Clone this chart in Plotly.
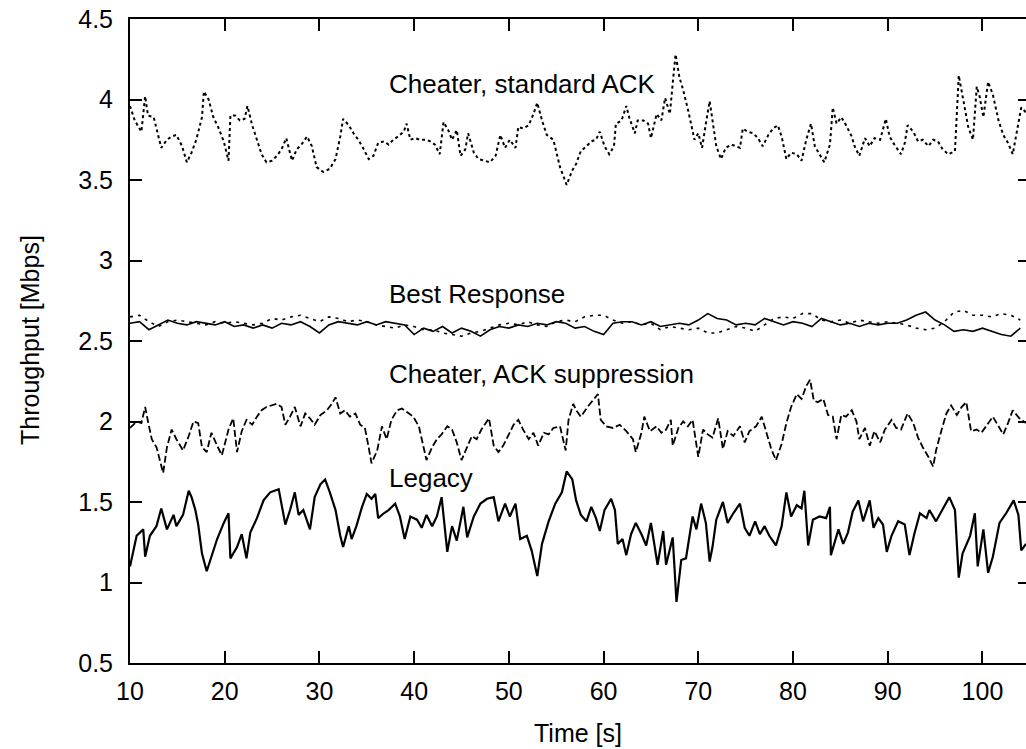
import plotly.graph_objects as go

# ---------------- data ----------------
legacy_t = [10.0,10.7,11.4,11.6,12.1,12.8,13.3,13.9,14.6,14.9,15.6,16.2,16.5,16.9,17.2,17.6,18.1,18.6,19.2,19.9,
            20.4,20.6,21.3,21.8,22.3,22.7,23.4,24.1,24.8,25.7,26.4,26.9,27.4,27.8,28.3,29.0,29.5,30.1,30.6,31.1,
            31.7,32.2,32.5,33.1,33.4,33.9,34.5,35.0,35.5,35.9,36.2,36.8,37.3,38.0,38.5,39.0,39.6,40.3,40.8,41.3,
            41.9,42.4,42.9,43.5,44.0,44.5,45.2,45.6,46.3,47.0,47.7,48.4,48.9,49.6,50.1,50.7,51.2,51.9,52.4,53.0,
            53.5,54.2,54.9,55.6,56.1,56.7,
            57.1,57.6,58.2,58.7,59.2,59.6,60.1,60.8,61.2,61.5,62.0,62.4,62.9,63.4,64.0,64.5,65.0,65.7,66.3,66.6,
            67.3,67.7,68.2,68.7,69.4,69.8,70.3,70.8,71.2,71.5,71.9,72.6,73.1,73.7,74.4,74.9,75.4,76.0,76.5,77.0,
            77.5,78.2,78.8,79.3,79.8,80.4,80.9,81.2,81.6,82.1,82.8,83.5,83.9,84.0,84.8,85.3,85.8,86.3,86.9,87.4,
            88.1,88.5,89.0,89.5,89.9,90.4,91.1,91.8,92.3,92.8,93.4,94.1,94.4,95.1,95.8,96.5,97.1,97.5,97.9,98.7,
            99.2,99.5,100.1,100.6,101.1,101.8,102.5,103.3,103.8,104.1,104.6]
legacy_v = [1.10,1.29,1.33,1.16,1.29,1.35,1.46,1.33,1.42,1.35,1.42,1.57,1.53,1.45,1.36,1.18,1.07,1.16,1.27,1.37,
            1.43,1.15,1.22,1.30,1.15,1.31,1.40,1.51,1.56,1.58,1.36,1.45,1.56,1.42,1.45,1.33,1.53,1.61,1.64,1.56,
            1.45,1.29,1.22,1.35,1.27,1.35,1.47,1.55,1.52,1.55,1.40,1.43,1.45,1.49,1.41,1.27,1.41,1.39,1.34,1.42,
            1.35,1.41,1.53,1.19,1.35,1.26,1.47,1.28,1.41,1.49,1.52,1.53,1.38,1.49,1.41,1.49,1.27,1.29,1.20,1.04,
            1.24,1.38,1.49,1.56,1.69,1.64,
            1.51,1.42,1.38,1.47,1.40,1.32,1.45,1.52,1.45,1.24,1.27,1.17,1.30,1.37,1.30,1.23,1.37,1.11,1.32,1.11,
            1.28,0.88,1.14,1.15,1.41,1.33,1.49,1.37,1.13,1.22,1.39,1.50,1.37,1.43,1.49,1.34,1.29,1.38,1.30,1.35,
            1.29,1.23,1.35,1.56,1.41,1.48,1.46,1.57,1.23,1.39,1.41,1.40,1.47,1.17,1.33,1.24,1.31,1.44,1.51,1.38,
            1.51,1.34,1.40,1.36,1.19,1.29,1.38,1.36,1.17,1.30,1.43,1.40,1.45,1.38,1.46,1.53,1.45,1.03,1.18,1.29,
            1.43,1.10,1.33,1.06,1.16,1.37,1.43,1.51,1.42,1.20,1.24]

supp_t = [10.0,10.7,11.2,11.6,11.9,12.3,12.8,13.5,13.9,14.4,14.9,15.6,16.2,16.7,17.2,17.6,18.1,18.6,19.2,19.7,
          20.4,20.9,21.3,21.8,22.3,22.9,23.4,23.9,24.4,25.0,25.5,26.0,26.4,26.9,27.4,28.0,28.5,29.0,29.5,30.1,
          30.8,31.3,31.7,32.2,32.7,33.2,33.8,34.3,34.8,35.2,35.5,36.1,36.6,37.1,37.6,38.2,38.7,39.2,39.9,40.5,
          40.8,41.3,41.9,42.4,42.9,43.5,44.0,44.5,45.0,45.6,46.1,46.6,47.1,47.9,48.4,48.9,49.4,50.0,50.5,51.0,
          51.5,52.1,52.6,53.1,53.7,54.2,54.7,55.4,56.0,56.3,56.8,
          57.1,57.6,58.3,58.9,59.4,59.7,60.3,61.0,61.7,62.4,63.1,63.4,64.0,64.3,64.9,65.6,66.1,66.6,67.1,67.3,
          67.9,68.4,68.9,69.4,70.0,70.5,71.0,71.5,72.1,72.6,73.1,73.7,74.4,74.9,75.4,76.1,76.7,77.2,77.7,78.2,
          78.8,79.3,79.8,80.4,80.9,81.4,81.8,82.2,82.6,83.2,83.7,84.2,84.6,85.1,85.6,86.2,86.7,87.0,87.6,88.1,
          88.6,89.2,89.7,90.4,90.9,91.4,92.1,92.7,93.2,93.7,94.3,94.8,95.1,95.7,96.2,96.7,97.3,97.8,98.3,98.8,
          99.4,99.9,100.4,101.1,101.7,102.2,102.7,103.2,103.9,104.6]
supp_v = [1.96,2.00,1.99,2.09,2.00,1.89,1.84,1.68,1.84,1.95,1.89,1.82,1.91,2.00,1.99,1.84,1.81,1.93,1.85,1.79,
          1.95,2.02,1.81,1.94,2.01,1.98,2.03,2.07,2.09,2.10,2.11,2.09,1.98,2.03,2.09,1.97,2.05,2.02,1.98,2.04,
          2.07,2.11,2.15,2.05,2.07,2.03,2.05,1.98,1.96,1.84,1.74,1.82,1.97,1.89,2.01,2.07,2.08,2.06,2.03,1.97,
          1.89,1.76,1.84,1.89,1.92,1.97,1.95,1.87,1.76,1.84,1.91,1.89,1.95,2.02,1.85,1.81,1.85,1.92,1.98,2.01,
          1.95,1.89,1.93,1.85,1.93,1.92,1.96,1.97,1.82,2.01,2.11,
          2.07,2.03,2.09,2.13,2.17,2.01,1.97,1.96,1.98,1.94,1.89,1.81,1.93,2.03,1.94,1.97,1.93,1.95,2.01,1.85,
          1.96,2.00,1.97,2.01,1.78,1.95,1.92,1.90,2.02,1.83,1.94,1.91,1.97,1.87,1.94,1.97,2.03,1.93,1.83,1.76,
          1.86,1.99,2.09,2.17,2.14,2.22,2.26,2.13,2.12,2.14,2.04,2.03,1.89,2.04,2.03,2.07,2.00,1.89,1.96,1.85,
          1.94,1.87,1.95,2.01,1.96,1.95,2.05,1.99,1.90,1.84,1.78,1.72,1.82,1.95,2.05,2.10,2.04,2.09,2.12,1.94,
          1.95,1.93,1.97,2.03,1.97,1.92,1.99,2.07,2.02,1.99]

std_t = [10.0,10.5,10.9,11.2,11.6,11.9,12.5,13.0,13.3,13.9,14.4,14.9,15.5,16.0,16.5,17.0,17.6,17.8,18.3,18.8,
         19.3,19.9,20.4,20.6,21.1,21.6,22.1,22.4,22.9,23.4,23.9,24.4,25.0,25.5,26.0,26.5,27.1,27.6,28.1,28.7,
         29.2,29.7,30.4,31.1,31.7,32.2,32.5,33.1,33.6,34.1,34.6,35.2,35.7,36.2,36.8,37.3,37.8,38.3,38.9,39.2,
         39.6,40.1,40.6,41.2,41.7,42.2,42.7,43.1,43.6,44.0,44.5,44.9,45.4,45.7,46.3,46.8,47.3,48.0,48.6,49.1,
         49.6,50.1,50.7,51.0,51.5,52.1,52.6,53.0,53.5,54.0,54.7,55.4,56.1,56.7,
         57.1,57.6,58.2,58.7,59.2,59.6,60.1,60.6,61.1,61.3,61.9,62.4,62.7,63.3,63.6,64.2,64.7,65.0,65.6,66.1,
         66.5,67.0,67.3,67.6,68.0,68.4,68.9,69.3,69.6,70.0,70.4,70.8,71.2,71.5,71.9,72.4,72.9,73.5,74.0,74.4,
         74.7,75.2,75.8,76.3,76.8,77.4,77.9,78.4,78.8,79.3,79.8,80.4,80.9,81.4,81.9,82.3,82.8,83.3,83.9,84.2,
         84.6,85.1,85.6,86.2,86.5,87.0,87.6,88.1,88.6,89.2,89.8,90.2,90.7,91.4,91.8,92.1,92.7,93.2,93.7,94.3,
         94.8,95.3,95.8,96.4,97.1,97.3,97.5,98.0,98.5,99.0,99.4,99.7,100.1,100.6,101.1,101.7,102.2,102.7,103.2,103.6,
         104.1,104.6]
std_v = [3.96,3.87,3.83,3.80,4.02,3.90,3.89,3.77,3.70,3.75,3.77,3.78,3.71,3.61,3.67,3.75,3.89,4.05,4.00,3.89,
         3.83,3.74,3.62,3.90,3.90,3.87,3.88,3.96,3.84,3.75,3.66,3.61,3.62,3.65,3.69,3.76,3.62,3.69,3.72,3.77,
         3.71,3.58,3.55,3.57,3.63,3.77,3.88,3.84,3.79,3.75,3.70,3.63,3.65,3.73,3.74,3.72,3.75,3.77,3.80,3.85,
         3.75,3.76,3.75,3.75,3.74,3.72,3.66,3.86,3.81,3.75,3.81,3.65,3.69,3.79,3.67,3.63,3.62,3.61,3.65,3.78,
         3.70,3.75,3.70,3.83,3.82,3.84,3.91,3.98,3.87,3.78,3.75,3.58,3.47,3.56,
         3.60,3.68,3.71,3.74,3.75,3.80,3.71,3.66,3.71,3.85,3.87,3.96,3.89,3.79,3.87,3.87,3.85,3.76,3.91,3.87,
         4.01,3.91,4.10,4.28,4.14,4.06,3.94,3.83,3.75,3.79,3.70,3.85,3.99,3.87,3.71,3.63,3.70,3.72,3.71,3.70,
         3.82,3.80,3.79,3.76,3.71,3.78,3.82,3.84,3.77,3.63,3.67,3.66,3.62,3.75,3.85,3.71,3.66,3.61,3.72,3.95,
         3.85,3.89,3.84,3.77,3.71,3.65,3.76,3.71,3.76,3.75,3.88,3.77,3.72,3.66,3.73,3.84,3.80,3.74,3.75,3.71,
         3.75,3.74,3.69,3.66,3.68,3.96,4.15,3.99,3.83,3.75,4.08,4.02,3.89,4.11,4.03,3.87,3.78,3.73,3.66,3.79,
         3.95,3.92]

best_t = list(range(10, 105))
best_a = [2.61,2.62,2.57,2.60,2.63,2.61,2.60,2.62,2.61,2.60,
          2.62,2.59,2.60,2.58,2.60,2.58,2.61,2.60,2.62,2.59,
          2.55,2.60,2.62,2.61,2.60,2.62,2.60,2.62,2.61,2.60,
          2.54,2.58,2.56,2.59,2.55,2.58,2.56,2.53,2.57,2.59,
          2.58,2.60,2.59,2.61,2.60,2.62,2.61,2.58,2.59,2.56,
          2.54,2.61,2.62,2.62,2.60,2.62,2.59,2.60,2.61,2.60,
          2.63,2.67,2.64,2.63,2.60,2.61,2.60,2.64,2.62,2.60,
          2.62,2.61,2.59,2.64,2.62,2.60,2.61,2.59,2.61,2.60,
          2.61,2.61,2.63,2.66,2.68,2.63,2.60,2.56,2.57,2.56,
          2.58,2.56,2.54,2.53,2.58]
best_b = [2.65,2.66,2.62,2.59,2.62,2.63,2.62,2.61,2.60,2.62,
          2.61,2.62,2.61,2.60,2.61,2.64,2.63,2.65,2.66,2.64,
          2.62,2.65,2.64,2.62,2.63,2.62,2.60,2.59,2.58,2.60,
          2.59,2.57,2.57,2.55,2.54,2.53,2.55,2.56,2.58,2.60,
          2.61,2.60,2.62,2.60,2.59,2.62,2.63,2.62,2.65,2.66,
          2.66,2.63,2.61,2.62,2.60,2.61,2.57,2.59,2.58,2.57,
          2.58,2.55,2.55,2.57,2.59,2.58,2.56,2.60,2.64,2.65,
          2.64,2.67,2.67,2.63,2.62,2.63,2.61,2.63,2.62,2.61,
          2.62,2.61,2.60,2.58,2.57,2.58,2.62,2.68,2.69,2.66,
          2.66,2.65,2.67,2.66,2.63]

x_ticks = [10, 20, 30, 40, 50, 60, 70, 80, 90, 100]
y_ticks = [0.5, 1, 1.5, 2, 2.5, 3, 3.5, 4, 4.5]

labels = ["Cheater, standard ACK", "Best Response", "Cheater, ACK suppression", "Legacy"]

# ---------------- figure ----------------
FONT = "Liberation Sans, Arial, Helvetica, sans-serif"
W, H = 1026, 749
PL, PR, PT, PB = 130, 1026, 19, 663   # plot frame in window pixels
L, R, T, B = PL, W - PR, PT, H - PB

fig = go.Figure()

def add(t, v, dash, width):
    n = min(len(t), len(v))
    fig.add_trace(go.Scatter(x=t[:n], y=v[:n], mode="lines",
                             line=dict(color="black", width=width, dash=dash),
                             showlegend=False, hoverinfo="skip"))

add(std_t, std_v, "3px,3px", 2)
add(best_t, best_a, "solid", 1.6)
add(best_t, best_b, "3px,5px", 1.6)
add(supp_t, supp_v, "7px,3px", 1.8)
add(legacy_t, legacy_v, "solid", 2.2)

# right-hand ticks (the frame line itself lies just past the window edge)
fig.add_trace(go.Scatter(x=[None], y=[None], yaxis="y2", showlegend=False, hoverinfo="skip"))

fig.update_layout(
    width=W, height=H,
    margin=dict(l=L, r=R, t=T, b=B, pad=0, autoexpand=False),
    paper_bgcolor="white", plot_bgcolor="white",
    font=dict(family=FONT, size=25, color="black"),
    hovermode=False,
    xaxis=dict(range=[10, 104.6], tickvals=x_ticks, ticktext=[str(v) for v in x_ticks],
               ticks="inside", ticklen=12, tickwidth=2, tickcolor="black",
               showline=True, linewidth=2, linecolor="black", mirror="ticks",
               showgrid=False, zeroline=False, tickfont=dict(size=25),
               ticklabelstandoff=5, ticklabeloverflow="allow", automargin=False),
    yaxis=dict(range=[0.5, 4.5], tickvals=y_ticks, ticktext=[f"{v:g}" for v in y_ticks],
               ticks="inside", ticklen=12, tickwidth=2, tickcolor="black",
               showline=True, linewidth=2, linecolor="black", mirror=False,
               showgrid=False, zeroline=False, tickfont=dict(size=25),
               ticklabelstandoff=10, ticklabeloverflow="allow", automargin=False),
    yaxis2=dict(range=[0.5, 4.5], tickvals=y_ticks, overlaying="y", side="right",
                ticks="inside", ticklen=8, tickwidth=2, tickcolor="black",
                showline=False, showticklabels=False, showgrid=False, zeroline=False,
                automargin=False),
)

def py(pix):
    return (PB - pix) / (PB - PT)

def px(pix):
    return (pix - PL) / (PR - PL)

label_y = [84, 293.5, 373.5, 478.5]
for txt, yy in zip(labels, label_y):
    fig.add_annotation(text=txt, xref="paper", yref="paper", x=px(387), y=py(yy),
                       xanchor="left", yanchor="middle", showarrow=False,
                       font=dict(size=26, family=FONT, color="black"))

fig.add_annotation(text="Time [s]", xref="paper", yref="paper", x=px(578), y=py(733),
                   xanchor="center", yanchor="middle", showarrow=False,
                   font=dict(size=25, family=FONT, color="black"))
fig.add_annotation(text="Throughput [Mbps]", xref="paper", yref="paper", x=px(30), y=py(340),
                   xanchor="center", yanchor="middle", showarrow=False, textangle=-90,
                   font=dict(size=25, family=FONT, color="black"))

# remove the page's default body margin so the figure sits at the window's corner
fig.write_html("out.html",
               config={"displayModeBar": False, "staticPlot": True},
               post_script="document.body.style.margin='0';document.body.style.overflow='hidden';")
